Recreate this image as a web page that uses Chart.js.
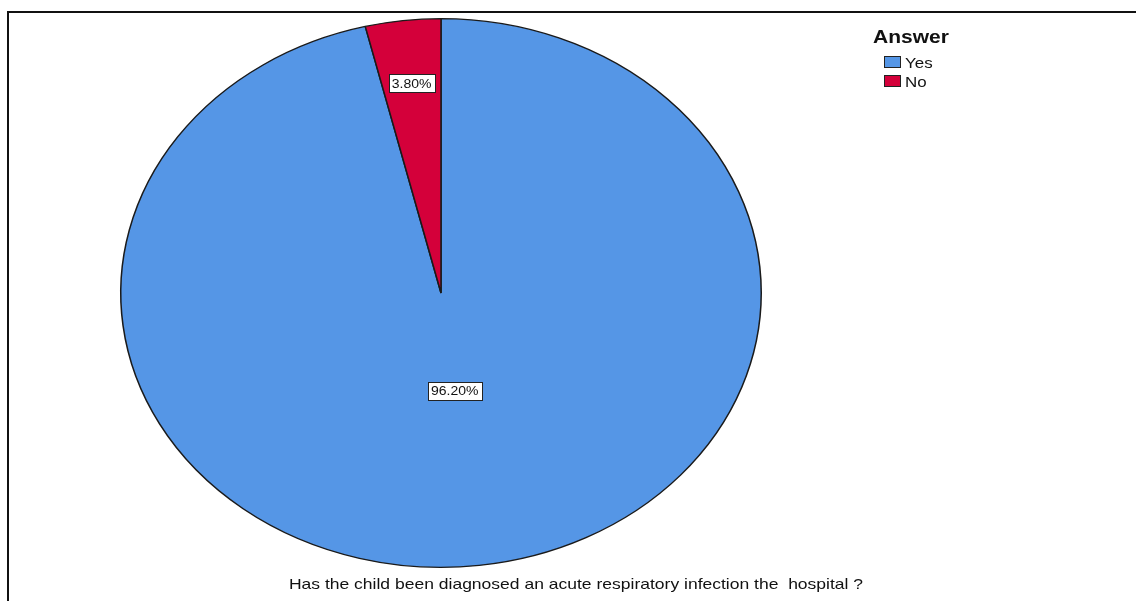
<!DOCTYPE html>
<html>
<head>
<meta charset="utf-8">
<script src="https://cdn.jsdelivr.net/npm/chart.js@4.4.1/dist/chart.umd.min.js"></script>
<style>
  html, body { margin: 0; padding: 0; background: #fff; }
  #wrap { position: relative; width: 1136px; height: 601px; overflow: hidden; font-family: "Liberation Sans", Arial, sans-serif; }
  #frame { position: absolute; left: 7px; top: 11px; width: 1200px; height: 700px; border-left: 2px solid #111; border-top: 2px solid #111; }
  #pie { position: absolute; left: 0; top: 0; }
  #legend { position: absolute; left: 873px; top: 27px; width: 200px; }
  #legend .ttl { font-weight: bold; font-size: 18px; color: #111; margin-bottom: 7px; transform: scaleX(1.167); transform-origin: 0 0; }
  #legend .row { position: relative; height: 19px; margin-left: 11px; color: #111; }
  #legend .box { position: absolute; left: 0; top: 1px; width: 15px; height: 10px; border: 1px solid #222; }
  #legend .lbl { position: absolute; left: 21px; top: 0px; font-size: 14.5px; transform: scaleX(1.167); transform-origin: 0 0; white-space: nowrap; }
  #caption { position: absolute; left: 0; width: 1152px; top: 575px; text-align: center; font-size: 15px; color: #111; white-space: pre; transform: scaleX(1.167); transform-origin: 576px 0; }
</style>
</head>
<body>
<div id="wrap">
  <div id="frame"></div>
  <canvas id="pie" width="1136" height="601"></canvas>
  <div id="legend"></div>
  <div id="caption"></div>
</div>
<script>
// Survey answers and their shares (percent)
const answers = ["Yes", "No"];
const shares = [96.2, 3.8];
const sliceColors = ["#5596e6", "#d4003a"];
const legendTitle = "Answer";
const caption = "Has the child been diagnosed an acute respiratory infection the  hospital ?";

// The pie is drawn as a circle and stretched horizontally into an ellipse
const STRETCH_X = 321 / 275;
// Where along each slice's radius its percentage box sits
const LABEL_RADIUS = [0.36, 0.77];

const legend = document.getElementById('legend');
const t = document.createElement('div');
t.className = 'ttl';
t.textContent = legendTitle;
legend.appendChild(t);
answers.forEach((a, i) => {
  const row = document.createElement('div');
  row.className = 'row';
  const b = document.createElement('span');
  b.className = 'box';
  b.style.background = sliceColors[i];
  const l = document.createElement('span');
  l.className = 'lbl';
  l.textContent = a;
  row.appendChild(b);
  row.appendChild(l);
  legend.appendChild(row);
});
document.getElementById('caption').textContent = caption;

const ellipsePlugin = {
  id: 'ellipse',
  beforeDatasetsDraw(chart) {
    const arc = chart.getDatasetMeta(0).data[0];
    const ctx = chart.ctx;
    ctx.save();
    ctx.translate(arc.x, arc.y);
    ctx.scale(STRETCH_X, 1);
    ctx.translate(-arc.x, -arc.y);
  },
  afterDatasetsDraw(chart) {
    const ctx = chart.ctx;
    ctx.restore();
    const meta = chart.getDatasetMeta(0);
    ctx.save();
    ctx.font = '12px "Liberation Sans", Arial, sans-serif';
    ctx.textBaseline = 'middle';
    meta.data.forEach((arc, i) => {
      const mid = (arc.startAngle + arc.endAngle) / 2;
      const r = arc.outerRadius * LABEL_RADIUS[i];
      const x = arc.x + Math.cos(mid) * r * STRETCH_X;
      const y = arc.y + Math.sin(mid) * r;
      const text = shares[i].toFixed(2) + '%';
      const tw = ctx.measureText(text).width * STRETCH_X;
      const w = Math.round(tw + 6);
      const h = 18;
      const bx = Math.round(x - w / 2) + 0.5, by = Math.round(y - h / 2) + 0.5;
      ctx.fillStyle = '#fff';
      ctx.fillRect(bx, by, w, h);
      ctx.strokeStyle = '#222';
      ctx.lineWidth = 1;
      ctx.strokeRect(bx, by, w, h);
      ctx.fillStyle = '#111';
      ctx.save();
      ctx.translate(x - tw / 2, y + 1);
      ctx.scale(STRETCH_X, 1);
      ctx.textAlign = 'left';
      ctx.fillText(text, 0, 0);
      ctx.restore();
    });
    ctx.restore();
  }
};

new Chart(document.getElementById('pie'), {
  type: 'pie',
  data: {
    labels: answers,
    datasets: [{
      data: shares,
      backgroundColor: sliceColors,
      borderColor: '#1a1a1a',
      borderWidth: 1.3
    }]
  },
  options: {
    responsive: false,
    animation: false,
    layout: { padding: { left: 166, right: 420, top: 18, bottom: 33 } },
    plugins: {
      legend: { display: false },
      tooltip: { enabled: false },
      title: { display: false }
    }
  },
  plugins: [ellipsePlugin]
});
</script>
</body>
</html>
